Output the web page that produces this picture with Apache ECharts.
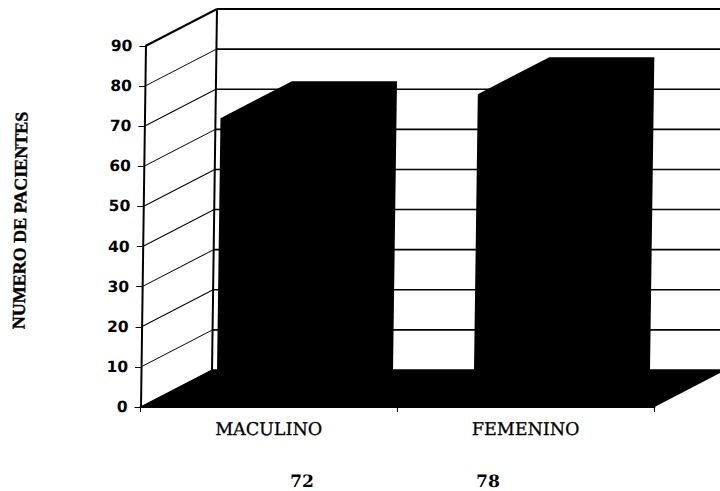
<!DOCTYPE html>
<html>
<head>
<meta charset="utf-8">
<script src="https://cdn.jsdelivr.net/npm/echarts@6/dist/echarts.min.js"></script>
<style>
  html, body { margin: 0; padding: 0; background: #fff; overflow: hidden; }
  /* The plot leans slightly to the right, pivoting on the baseline */
  #chart { width: 720px; height: 491px; transform: skewX(-0.79deg); transform-origin: 0 407px; }
</style>
</head>
<body>
<div id="chart"></div>
<script>
const categories = ['MACULINO', 'FEMENINO'];
const patients = [72, 78];
const yTicks = [0, 10, 20, 30, 40, 50, 60, 70, 80, 90];
const totals = ['72', '78'];

// Oblique projection of the chart depth, in pixels
const DEPTH_X = 71;
const DEPTH_Y = -37;
const BAR_SHARE = 105 / 257;
const INK = '#000';

const chart = echarts.init(document.getElementById('chart'), null, { renderer: 'svg' });

function renderWalls(params, api) {
  const band = api.size([1, 0])[0];
  const v = api.value(1);
  const front = api.coord([0, v]);
  const left = front[0] - band / 2;
  const y = front[1];
  const right = left + band * categories.length;
  const isTop = v === yTicks[yTicks.length - 1];
  const children = [
    { type: 'line', shape: { x1: left, y1: y, x2: left + DEPTH_X, y2: y + DEPTH_Y },
      style: { stroke: INK, lineWidth: isTop ? 2 : 1 } },
    { type: 'line', shape: { x1: left + DEPTH_X, y1: y + DEPTH_Y, x2: right + DEPTH_X, y2: y + DEPTH_Y },
      style: { stroke: INK, lineWidth: isTop ? 2 : 1.6 } }
  ];
  if (isTop) {
    const base = api.coord([0, 0])[1];
    children.push({ type: 'line',
      shape: { x1: left + DEPTH_X, y1: y + DEPTH_Y, x2: left + DEPTH_X, y2: base + DEPTH_Y },
      style: { stroke: INK, lineWidth: 2 } });
  }
  return { type: 'group', children };
}

function renderFloor(params, api) {
  const band = api.size([1, 0])[0];
  const base = api.coord([0, 0]);
  const left = base[0] - band / 2;
  const right = left + band * categories.length;
  const y = base[1];
  return { type: 'polygon',
    shape: { points: [[left, y], [right, y], [right + DEPTH_X, y + DEPTH_Y], [left + DEPTH_X, y + DEPTH_Y]] },
    style: { fill: INK } };
}

function renderBar(params, api) {
  const band = api.size([1, 0])[0];
  const top = api.coord([api.value(0), api.value(1)]);
  const bottom = api.coord([api.value(0), 0])[1];
  const w = band * BAR_SHARE;
  const l = top[0] - w / 2;
  const r = l + w;
  const t = top[1];
  return { type: 'polygon',
    shape: { points: [
      [l, bottom], [l, t], [l + DEPTH_X, t + DEPTH_Y], [r + DEPTH_X, t + DEPTH_Y],
      [r + DEPTH_X, bottom + DEPTH_Y], [r, bottom]
    ] },
    style: { fill: INK } };
}

chart.setOption({
  animation: false,
  backgroundColor: '#fff',
  grid: { left: 140.5, right: 65.5, top: 46, bottom: 84, outerBoundsMode: 'none' },
  xAxis: {
    type: 'category',
    data: categories,
    axisLine: { lineStyle: { color: INK, width: 2 } },
    axisTick: { show: true, length: 5, lineStyle: { color: INK, width: 1 } },
    axisLabel: { margin: 13, color: INK, fontFamily: 'DejaVu Serif', fontSize: 17.5, interval: 0,
      textBorderColor: INK, textBorderWidth: 0.3 }
  },
  yAxis: {
    type: 'value',
    min: 0,
    max: 90,
    interval: 10,
    name: 'NUMERO DE PACIENTES',
    nameLocation: 'middle',
    nameGap: 114,
    nameTextStyle: { color: INK, fontFamily: 'Liberation Serif', fontWeight: 'bold', fontSize: 18,
      textBorderColor: INK, textBorderWidth: 0.4, padding: [0, 0, 0, 12] },
    axisLine: { show: true, lineStyle: { color: INK, width: 2 } },
    axisTick: { show: true, length: 6, lineStyle: { color: INK, width: 1 } },
    axisLabel: { margin: 13, color: INK, fontFamily: 'DejaVu Sans', fontWeight: 'bold', fontSize: 15.5 },
    splitLine: { show: false }
  },
  series: [
    { type: 'custom', name: 'Paredes', renderItem: renderWalls, silent: true, z: 1,
      data: yTicks.map(v => [0, v]) },
    { type: 'custom', name: 'Piso', renderItem: renderFloor, silent: true, z: 2,
      data: [[0, 0]] },
    { type: 'custom', name: 'Pacientes', renderItem: renderBar, silent: true, z: 3,
      data: categories.map((c, i) => [i, patients[i]]) }
  ],
  graphic: totals.map((t, i) => ({
    type: 'text',
    x: [303, 489][i],
    y: 481,
    style: { text: t, fill: INK, font: 'bold 17px "DejaVu Serif"', align: 'center', verticalAlign: 'middle' }
  }))
});
</script>
</body>
</html>
